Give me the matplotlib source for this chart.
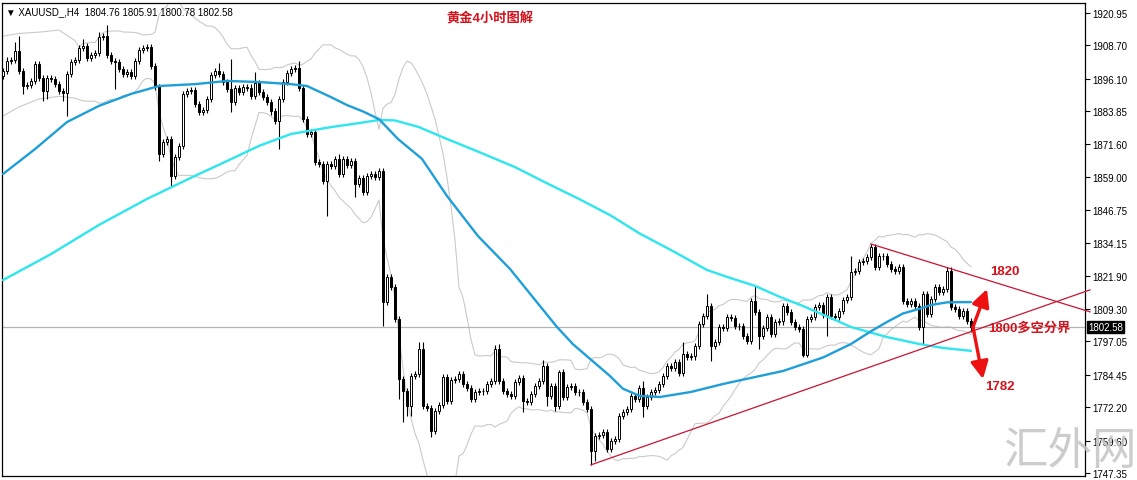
import matplotlib
matplotlib.use("Agg")
import matplotlib.pyplot as plt
import numpy as np
import pandas as pd

# ---------------- data ----------------
first_open = 1897.2
closes = [
    1899.0, 1902.8, 1903.2, 1906.6, 1899.0, 1893.4, 1893.8, 1895.3, 1901.7, 1896.4,
    1891.5, 1896.4, 1896.0, 1894.1, 1891.5, 1890.8, 1897.9, 1902.4, 1903.2, 1907.7,
    1908.5, 1903.9, 1905.1, 1905.8, 1911.9, 1912.2, 1905.1, 1902.8, 1902.4, 1899.8,
    1897.9, 1898.7, 1897.2, 1902.8, 1907.0, 1907.7, 1908.1, 1900.9, 1893.0, 1867.8,
    1872.3, 1873.4, 1859.5, 1866.6, 1870.8, 1890.4, 1891.5, 1891.9, 1886.6, 1883.6,
    1884.3, 1888.5, 1897.5, 1899.0, 1897.9, 1894.9, 1892.3, 1887.4, 1892.6, 1891.1,
    1893.0, 1892.8, 1889.6, 1894.5, 1891.1, 1889.2, 1887.4, 1883.8, 1880.2, 1888.5,
    1894.9, 1898.3, 1899.8, 1900.2, 1892.6, 1880.9, 1875.3, 1876.0, 1864.7, 1864.0,
    1857.6, 1864.0, 1863.2, 1865.9, 1860.2, 1865.9, 1863.6, 1865.1, 1856.4, 1858.7,
    1853.4, 1859.5, 1860.2, 1859.1, 1861.3, 1811.9, 1821.4, 1817.6, 1805.5, 1782.9,
    1778.4, 1772.7, 1784.0, 1784.8, 1794.2, 1772.7, 1772.0, 1763.3, 1770.8, 1773.1,
    1783.7, 1774.6, 1782.5, 1782.9, 1784.8, 1781.0, 1779.5, 1775.4, 1778.0, 1778.2,
    1778.4, 1781.0, 1782.1, 1794.2, 1782.1, 1778.4, 1777.2, 1776.5, 1781.8, 1783.3,
    1774.6, 1774.2, 1777.2, 1780.3, 1782.1, 1787.8, 1776.5, 1780.3, 1772.7, 1785.5,
    1776.1, 1779.9, 1780.1, 1778.0, 1777.8, 1774.2, 1771.6, 1755.7, 1761.4, 1761.8,
    1762.9, 1756.5, 1759.5, 1760.3, 1768.9, 1770.5, 1771.6, 1776.5, 1775.4, 1779.5,
    1772.7, 1776.1, 1778.0, 1778.8, 1781.0, 1784.0, 1787.8, 1787.0, 1789.3, 1785.2,
    1792.3, 1791.2, 1791.4, 1795.3, 1803.6, 1806.7, 1810.4, 1795.3, 1796.9, 1802.5,
    1802.1, 1806.3, 1805.9, 1802.9, 1802.7, 1799.1, 1797.2, 1812.3, 1808.2, 1799.1,
    1802.1, 1806.3, 1799.9, 1804.4, 1804.6, 1810.4, 1808.2, 1804.4, 1802.5, 1801.8,
    1791.9, 1805.5, 1806.3, 1810.1, 1810.8, 1807.0, 1813.8, 1806.7, 1806.3, 1808.5,
    1812.7, 1813.8, 1823.3, 1823.6, 1827.0, 1827.4, 1828.9, 1832.7, 1825.1, 1829.3,
    1829.1, 1826.3, 1824.4, 1823.6, 1825.1, 1812.3, 1811.2, 1812.3, 1810.4, 1802.5,
    1814.9, 1807.4, 1813.1, 1817.6, 1815.7, 1816.8, 1823.6, 1810.1, 1809.3, 1806.7,
    1808.5, 1804.76, 1802.58,
]
wick_up = [
    1.2, 1.5, 1.2, 3.4, 5.7, 1.2, 1.2, 1.2, 1.2, 1.2,
    1.2, 1.2, 1.2, 1.2, 1.2, 1.2, 1.2, 1.2, 1.2, 1.2,
    2.6, 1.2, 1.2, 1.2, 1.9, 1.2, 4.1, 1.2, 1.2, 1.2,
    1.2, 1.2, 1.2, 1.2, 1.2, 1.2, 1.2, 1.2, 1.2, 1.2,
    1.2, 1.2, 1.2, 1.2, 1.2, 1.2, 1.2, 1.2, 1.2, 1.2,
    1.2, 1.2, 1.2, 1.2, 3.0, 1.2, 1.2, 11.3, 1.2, 1.2,
    1.2, 1.2, 1.2, 4.1, 1.2, 1.2, 1.2, 1.2, 1.2, 1.2,
    1.2, 1.2, 1.2, 1.2, 2.6, 1.2, 1.2, 1.2, 1.2, 1.2,
    1.2, 1.2, 1.2, 1.2, 1.9, 1.2, 1.2, 1.2, 1.2, 1.2,
    1.2, 1.2, 1.2, 1.2, 1.2, 1.2, 1.2, 1.2, 1.2, 1.2,
    1.2, 1.2, 1.2, 1.2, 2.6, 2.6, 1.2, 1.2, 1.2, 1.2,
    1.2, 1.2, 1.2, 1.2, 1.2, 1.2, 1.2, 1.2, 1.2, 1.2,
    1.2, 1.2, 1.2, 1.5, 1.9, 1.2, 1.2, 1.2, 1.2, 1.2,
    1.2, 1.2, 1.2, 1.2, 1.2, 2.3, 1.2, 1.2, 1.2, 0.8,
    1.2, 1.2, 1.2, 1.2, 1.2, 1.2, 1.2, 1.2, 1.2, 1.2,
    1.2, 1.2, 1.2, 1.2, 1.2, 1.2, 1.2, 1.2, 1.2, 1.2,
    2.6, 1.2, 1.2, 1.2, 1.2, 1.2, 1.2, 1.2, 1.2, 1.2,
    4.5, 1.2, 1.2, 1.2, 1.2, 1.2, 4.5, 1.2, 1.2, 1.2,
    1.2, 1.2, 1.2, 1.2, 1.2, 1.2, 1.2, 1.2, 6.0, 1.2,
    1.2, 1.2, 1.2, 1.2, 1.2, 1.2, 1.2, 1.2, 1.2, 1.2,
    1.2, 1.2, 1.2, 1.2, 1.2, 1.2, 1.2, 1.2, 1.2, 1.2,
    1.2, 1.2, 6.0, 1.2, 1.2, 1.2, 1.2, 1.1, 1.2, 1.2,
    1.2, 1.2, 1.2, 1.2, 1.2, 1.2, 1.2, 1.2, 1.2, 1.2,
    1.2, 1.2, 1.2, 1.2, 1.2, 1.2, 1.5, 1.5, 1.2, 1.2,
    1.2, 1.15, 1.2,
]
wick_dn = [
    1.2, 1.2, 1.2, 1.2, 1.2, 3.0, 1.2, 1.2, 1.2, 1.2,
    3.8, 3.0, 1.2, 1.2, 1.2, 3.0, 8.7, 1.2, 1.2, 1.2,
    1.2, 1.2, 1.2, 1.2, 1.2, 1.2, 1.2, 1.2, 10.2, 1.2,
    1.2, 1.2, 1.2, 1.2, 1.2, 1.2, 1.2, 1.2, 1.2, 2.6,
    1.2, 1.2, 3.8, 1.2, 1.2, 1.2, 1.2, 1.2, 1.2, 1.2,
    1.2, 1.2, 1.2, 1.2, 1.2, 1.2, 1.2, 3.8, 1.2, 1.2,
    1.2, 1.2, 1.2, 1.2, 1.2, 1.2, 1.2, 1.2, 1.2, 10.6,
    1.2, 1.2, 1.2, 1.2, 1.2, 1.2, 1.2, 1.2, 1.2, 1.2,
    1.2, 13.2, 1.2, 1.2, 1.2, 1.2, 1.2, 1.2, 4.9, 1.2,
    1.2, 1.2, 1.2, 1.2, 1.2, 9.0, 1.2, 1.2, 1.2, 7.5,
    11.7, 3.8, 3.8, 1.2, 1.2, 1.2, 1.2, 2.3, 1.2, 1.2,
    1.2, 1.2, 1.2, 1.2, 1.2, 1.2, 1.2, 1.2, 1.2, 1.2,
    1.2, 1.2, 1.2, 1.2, 1.2, 1.2, 1.2, 1.2, 1.2, 1.2,
    4.1, 1.2, 1.2, 1.2, 1.2, 1.2, 3.8, 1.2, 1.9, 1.2,
    1.2, 1.2, 1.2, 1.2, 1.2, 1.2, 1.2, 5.2, 3.8, 1.2,
    1.2, 1.2, 1.2, 1.2, 1.2, 1.2, 1.2, 1.2, 1.2, 1.2,
    4.1, 1.2, 1.2, 1.2, 1.2, 1.2, 1.2, 1.2, 1.2, 1.2,
    1.2, 1.2, 1.2, 1.2, 1.2, 1.2, 1.2, 5.7, 1.2, 1.2,
    1.2, 1.2, 1.2, 1.2, 1.2, 1.2, 1.2, 1.2, 1.2, 4.9,
    1.2, 1.2, 1.2, 1.2, 1.2, 1.2, 1.2, 1.2, 1.2, 1.2,
    0.8, 0.8, 1.2, 1.2, 1.2, 1.2, 7.9, 1.2, 1.2, 1.2,
    1.2, 1.2, 1.2, 1.2, 1.2, 1.2, 1.2, 1.2, 1.2, 1.2,
    1.2, 1.2, 1.2, 1.2, 1.2, 1.2, 1.2, 1.2, 1.2, 1.2,
    6.4, 1.2, 1.2, 1.2, 1.2, 1.2, 1.2, 1.2, 1.2, 1.2,
    1.2, 1.2, 1.8,
]

# moving averages (bar index, price)
ma_fast_idx = [0, 8, 16, 24, 32, 39, 48, 56, 64, 72, 76, 82, 86, 90, 94, 98.75, 104.75,
               111, 118.75, 126.75, 134.25, 138.5, 142.5, 146.75, 151.75, 155, 159.25,
               164.25, 172, 180, 187, 195, 205, 212, 217, 221, 225, 229, 232, 236, 242]
ma_fast_val = [1860.2, 1869.6, 1879.8, 1885.9, 1890.4, 1893.4, 1894.1, 1895.3, 1894.9, 1894.1,
               1893.4, 1889.2, 1886.2, 1883.8, 1880.9, 1873.4, 1865.9, 1851.9, 1836.8, 1824.4,
               1810.4, 1802.5, 1796.0, 1790.5, 1784.0, 1779.2, 1776.5, 1776.1, 1778.0, 1781.0,
               1783.3, 1785.9, 1791.0, 1796.1, 1800.9, 1804.4, 1807.6, 1809.3, 1810.8, 1811.8,
               1811.9]
ma_slow_idx = [0, 12, 24, 36, 48, 56, 64, 72, 82, 89, 94, 98, 104, 111, 119, 128, 136,
               144, 152, 159, 168, 176, 182, 188, 194, 200, 206, 212, 221, 229, 235, 242]
ma_slow_val = [1820.2, 1830.0, 1841.0, 1850.8, 1859.5, 1865.1, 1870.8, 1875.3, 1877.9, 1879.4,
               1880.6, 1880.4, 1877.9, 1873.4, 1868.5, 1862.8, 1856.7, 1850.8, 1844.5, 1837.9,
               1830.7, 1824.0, 1820.9, 1818.0, 1814.0, 1810.4, 1806.5, 1802.5, 1798.7, 1796.1,
               1794.6, 1793.5]
# Bollinger bands for the first bars (before 20 bars of history)
bb_head_idx = [0, 4, 9, 14, 18]
bb_head_up = [1912.2, 1913.2, 1913.7, 1914.5, 1910.5]
bb_head_lo = [1882.1, 1885.5, 1888.5, 1889.5, 1888.8]

tick_vals = [1920.95, 1908.70, 1896.10, 1883.85, 1871.60, 1859.00, 1846.75, 1834.15,
             1821.90, 1809.30, 1797.05, 1784.45, 1772.20, 1759.60, 1747.35]
tick_labels = ["1920.95", "1908.70", "1896.10", "1883.85", "1871.60", "1859.00", "1846.75",
               "1834.15", "1821.90", "1809.30", "1797.05", "1784.45", "1772.20", "1759.60",
               "1747.35"]
last_price = 1802.58
upper_trend = ([217, 271.75], [1833.8, 1808.2])
lower_trend = ([147, 271.75], [1750.5, 1816.5])
header = "\u25BC XAUUSD_,H4  1804.76 1805.91 1800.78 1802.58"
title = "黄金4小时图解"

# ---------------- derived ----------------
c = np.array(closes)
o = np.concatenate([[first_open], c[:-1]])
hi = np.maximum(o, c) + np.array(wick_up)
lo = np.minimum(o, c) - np.array(wick_dn)
idx = np.arange(len(c))
s = pd.Series(c)
mid = s.rolling(20).mean()
sd = s.rolling(20).std(ddof=0)
bb_up = (mid + 2 * sd).to_numpy()
bb_lo = (mid - 2 * sd).to_numpy()
bbx = np.concatenate([bb_head_idx, idx[19:]])
bbu = np.concatenate([bb_head_up, bb_up[19:]])
bbl = np.concatenate([bb_head_lo, bb_lo[19:]])

# ---------------- figure ----------------
W, H = 1137, 481
fig = plt.figure(figsize=(W / 100, H / 100), dpi=100)
fig.patch.set_facecolor("white")
ax = fig.add_axes([2 / W, 4 / H, 1083 / W, 473 / H])
ax.set_xlim(-0.25, 270.5)
ax.set_ylim(1746.3, 1924.7)

# bollinger bands
ax.plot(bbx, bbu, color="#cacaca", lw=0.8, zorder=1)
ax.plot(bbx, bbl, color="#cacaca", lw=0.8, zorder=1)

# current price line
ax.axhline(last_price, color="#b4b4b4", lw=0.9, zorder=1)

# candles
ax.vlines(idx, lo, hi, color="black", lw=0.8, zorder=2)
up = c >= o
body_h = np.maximum(np.abs(c - o), 0.12)
ax.bar(idx[up], body_h[up], bottom=np.minimum(o, c)[up], width=0.72,
       facecolor="white", edgecolor="black", linewidth=0.7, zorder=3)
ax.bar(idx[~up], body_h[~up], bottom=np.minimum(o, c)[~up], width=0.72,
       facecolor="black", edgecolor="black", linewidth=0.7, zorder=3)

# moving averages
ax.plot(ma_slow_idx, ma_slow_val, color="#2ee6ee", lw=1.7, zorder=4,
        solid_capstyle="round", solid_joinstyle="round")
ax.plot(ma_fast_idx, ma_fast_val, color="#1f9fd8", lw=1.7, zorder=4,
        solid_capstyle="round", solid_joinstyle="round")

# triangle lines
ax.plot(*upper_trend, color="#c81432", lw=0.9, zorder=5, clip_on=False)
ax.plot(*lower_trend, color="#c81432", lw=0.9, zorder=5, clip_on=False)

# arrows
arrow_kw = dict(arrowstyle="-|>,head_length=0.75,head_width=0.38", color="#ee1111",
                lw=2.4, mutation_scale=14, shrinkA=0, shrinkB=0)
ax.annotate("", xy=(246.0, 1816.8), xytext=(242.5, 1802.5), arrowprops=arrow_kw, zorder=6)
ax.annotate("", xy=(245.0, 1782.9), xytext=(242.5, 1802.5), arrowprops=arrow_kw, zorder=6)

fam = ["Liberation Sans", "Noto Sans CJK SC", "DejaVu Sans"]
red = "#d4121c"
ax.text(246.75, 1823.6, "1820", color=red, fontsize=9.5, fontweight="bold",
        family=fam, ha="left", va="center", zorder=7)
ax.text(246.25, 1802.3, "1800多空分界", color=red, fontsize=9.5, fontweight="bold",
        family=fam, ha="left", va="center", zorder=7)
ax.text(245.5, 1780.3, "1782", color=red, fontsize=9.5, fontweight="bold",
        family=fam, ha="left", va="center", zorder=7)

fig.text(490 / W, 1 - 19 / H, title, color=red, fontsize=9.5, fontweight="bold",
         family=fam, ha="center", va="center")
fig.text(6 / W, 1 - 12 / H, header, color="black", fontsize=7,
         family=["Liberation Sans", "DejaVu Sans"], ha="left", va="center")

# axes styling
ax.set_xticks([])
ax.yaxis.tick_right()
ax.set_yticks(tick_vals)
ax.set_yticklabels(tick_labels)
ax.tick_params(axis="y", direction="out", length=3.5, width=0.8, pad=2,
               labelsize=7, colors="black")
for lab in ax.get_yticklabels():
    lab.set_family(["Liberation Sans", "DejaVu Sans"])
for sp in ax.spines.values():
    sp.set_color("black")
    sp.set_linewidth(0.9)

# last price label
fig.text(1088 / W, 1 - 328 / H, "1802.58", color="white", fontsize=7,
         family=["Liberation Sans", "DejaVu Sans"], ha="left", va="center",
         bbox=dict(boxstyle="square,pad=0.15", facecolor="black", edgecolor="black"))

# watermark
fig.text(1070 / W, 1 - 451 / H, "汇外网", color="#c4c4c4", fontsize=32,
         family=["Noto Sans CJK SC"], fontweight="light", ha="center", va="center",
         alpha=0.85, zorder=10)

fig.savefig("out.png", dpi=100)
